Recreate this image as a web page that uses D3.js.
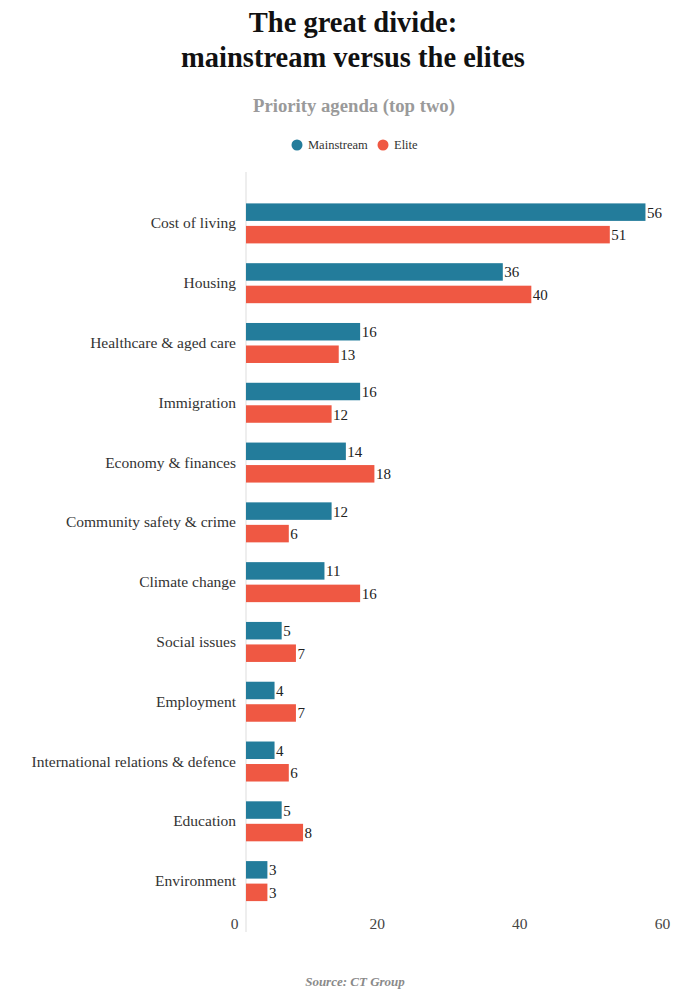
<!DOCTYPE html>
<html><head><meta charset="utf-8">
<script src="https://cdn.jsdelivr.net/npm/d3@7"></script>
<style>
body{margin:0;background:#fff;}
svg{font-family:"Liberation Serif","DejaVu Serif",serif;}
</style></head>
<body>
<svg id="c" width="700" height="1000"></svg>
<script>
const categories = ["Cost of living","Housing","Healthcare & aged care","Immigration","Economy & finances","Community safety & crime","Climate change","Social issues","Employment","International relations & defence","Education","Environment"];
const mainstream = [56,36,16,16,14,12,11,5,4,4,5,3];
const elite = [51,40,13,12,18,6,16,7,7,6,8,3];
const seriesNames = ["Mainstream","Elite"];
const seriesColors = ["#237c9b","#ef5843"];
const xTicks = [0,20,40,60];

const svg = d3.select("#c");
svg.append("text").attr("x",353).attr("y",32).attr("text-anchor","middle")
  .attr("font-size",28.5).attr("font-weight","bold").attr("fill","#111").text("The great divide:");
svg.append("text").attr("x",353).attr("y",67).attr("text-anchor","middle")
  .attr("font-size",28.5).attr("font-weight","bold").attr("fill","#111").text("mainstream versus the elites");
svg.append("text").attr("x",354).attr("y",112).attr("text-anchor","middle")
  .attr("font-size",18.7).attr("font-weight","bold").attr("fill","#9a9a9a").text("Priority agenda (top two)");

// legend
const leg = svg.append("g");
const legX = [297,383];
seriesNames.forEach((n,i)=>{
  leg.append("circle").attr("cx",legX[i]).attr("cy",145).attr("r",5.5).attr("fill",seriesColors[i]);
  leg.append("text").attr("x",legX[i]+11).attr("y",149).attr("font-size",12.5).attr("fill","#333").text(n);
});

const x = d3.scaleLinear().domain([0,60]).range([246,674]);
const y = d3.scaleBand().domain(categories).range([193.5,911]);

// axis line
svg.append("line").attr("x1",246).attr("x2",246).attr("y1",172).attr("y2",932)
  .attr("stroke","#ddd").attr("stroke-width",1);

const data = categories.map((c,i)=>({c,vals:[mainstream[i],elite[i]]}));
const g = svg.append("g");
const barH = 17.5, gap = 5;
data.forEach(d=>{
  const cy = y(d.c)+y.bandwidth()/2;
  d.vals.forEach((v,j)=>{
    const top = j===0 ? cy - gap/2 - barH : cy + gap/2;
    g.append("rect").attr("x",x(0)).attr("y",top).attr("width",x(v)-x(0)).attr("height",barH)
      .attr("fill",seriesColors[j]);
    g.append("text").attr("x",x(v)+1.5).attr("y",top+barH/2+5.5).attr("font-size",15)
      .attr("fill","#222").text(v);
  });
  g.append("text").attr("x",236).attr("y",cy+5).attr("text-anchor","end")
    .attr("font-size",15.5).attr("fill","#333").text(d.c);
});

// x axis
const ax = svg.append("g").attr("transform","translate(0,916)")
  .call(d3.axisBottom(x).tickValues(xTicks).tickSize(0).tickPadding(2));
ax.select(".domain").remove();
ax.selectAll("text").attr("font-family","Liberation Serif, serif").attr("font-size",15.5)
  .attr("fill","#444").attr("dx",-12);

svg.append("text").attr("x",355).attr("y",986).attr("text-anchor","middle")
  .attr("font-size",13).attr("font-style","italic").attr("font-weight","bold").attr("fill","#8a8a8a")
  .text("Source: CT Group");
</script>
</body></html>
